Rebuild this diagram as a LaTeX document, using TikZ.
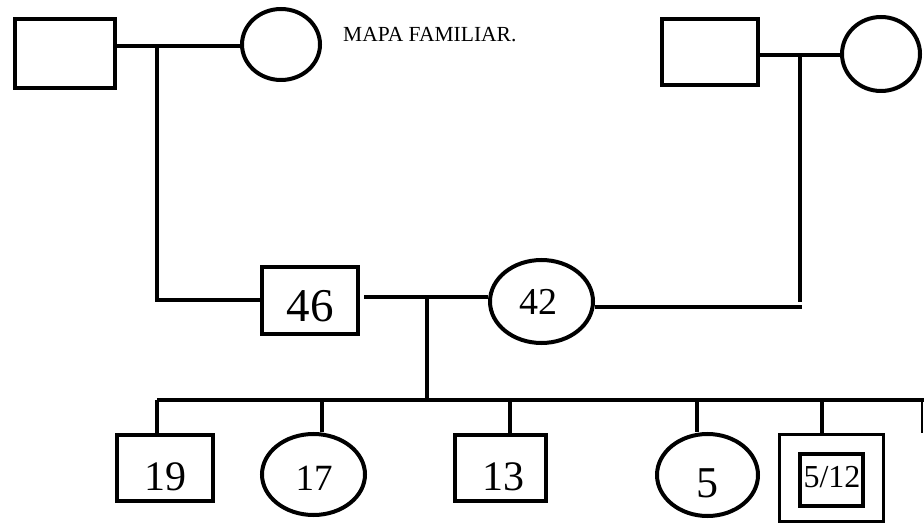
\documentclass[tikz,border=0pt]{standalone}
\usepackage{fontspec}
\setmainfont{Liberation Serif}
\usetikzlibrary{shapes.geometric}
\tikzset{
  ln/.style={line width=4bp, line cap=butt},
  sq/.style={draw, line width=4bp, rectangle, inner sep=0pt},
  ov/.style={draw, line width=4bp, ellipse, inner sep=0pt},
  lbl/.style={inner sep=0pt, anchor=base},
}
\newcommand{\fs}[1]{\fontsize{#1bp}{#1bp}\selectfont}
\begin{document}
\begin{tikzpicture}[x=1bp,y=-1bp]
\useasboundingbox (0,0) rectangle (924,525);
% grandparents left
\node[sq, minimum width=100bp, minimum height=69bp] (gf1) at (65,53.5) {};
\node[ov, minimum width=78bp, minimum height=71bp] (gm1) at (281,44.5) {};
% grandparents right
\node[sq, minimum width=96bp, minimum height=66bp] (gf2) at (710,52) {};
\node[ov, minimum width=78bp, minimum height=74bp] (gm2) at (881,54) {};
% parents
\node[sq, minimum width=96bp, minimum height=67bp] (fa) at (310,300.5) {};
\node[ov, minimum width=103bp, minimum height=83bp] (mo) at (541.5,301.5) {};
% children
\node[sq, minimum width=96bp, minimum height=66bp] (c19) at (165,468) {};
\node[ov, minimum width=103bp, minimum height=81bp] (c17) at (313.5,474.5) {};
\node[sq, minimum width=91bp, minimum height=66bp] (c13) at (500.5,468) {};
\node[ov, minimum width=101bp, minimum height=82bp] (c5) at (707.5,475) {};
\node[sq, line width=3bp, minimum width=104bp, minimum height=87bp] (c512o) at (831.5,478) {};
\node[sq, minimum width=63bp, minimum height=52bp] (c512i) at (831.5,480) {};
% junction coordinates
\coordinate (j1) at (157,46);
\coordinate (j2) at (800,55);
\coordinate (j3) at (427,297);
\coordinate (sl) at (157,400);
\coordinate (sr) at (924,400);
% connectors
\draw[ln] (gf1.east |- j1) -- (gm1.west |- j1);
\draw[ln] (j1) |- (fa.west);
\draw[ln] (gf2.east |- j2) -- (gm2.west |- j2);
\draw[ln] (j2) -- (800,302);
\draw[ln] (mo.east |- 0,307) -- (802,307);
\draw[ln] (364,297) -- (mo.west |- j3);
\draw[ln] (j3) -- (j3 |- sl);
\draw[ln] (sl) -- (sr);
\draw[ln] (sl) -- (c19.north -| sl);
\draw[ln] (322,400) -- (c17.north -| 322,0);
\draw[ln] (510,400) -- (c13.north -| 510,0);
\draw[ln] (697,400) -- (c5.north -| 697,0);
\draw[ln] (822,400) -- (c512o.north -| 822,0);
\draw[line width=2.5bp] (922,400) -- (922,433);
% texts
\node[lbl, anchor=base west] (title) at (343,42) {\fs{21.5}MAPA FAMILIAR.};
\node[lbl] (t46) at (310,322) {\fs{47}46};
\node[lbl] (t42) at (538,315) {\fs{38}42};
\node[lbl] (t19) at (165,490) {\fs{42}19};
\node[lbl] (t17) at (314,490) {\fs{37}17};
\node[lbl] (t13) at (503,490) {\fs{42}13};
\node[lbl] (t5) at (707,497) {\fs{44}5};
\node[lbl] (t512) at (832,487) {\fs{32}5/12};
\end{tikzpicture}
\end{document}
